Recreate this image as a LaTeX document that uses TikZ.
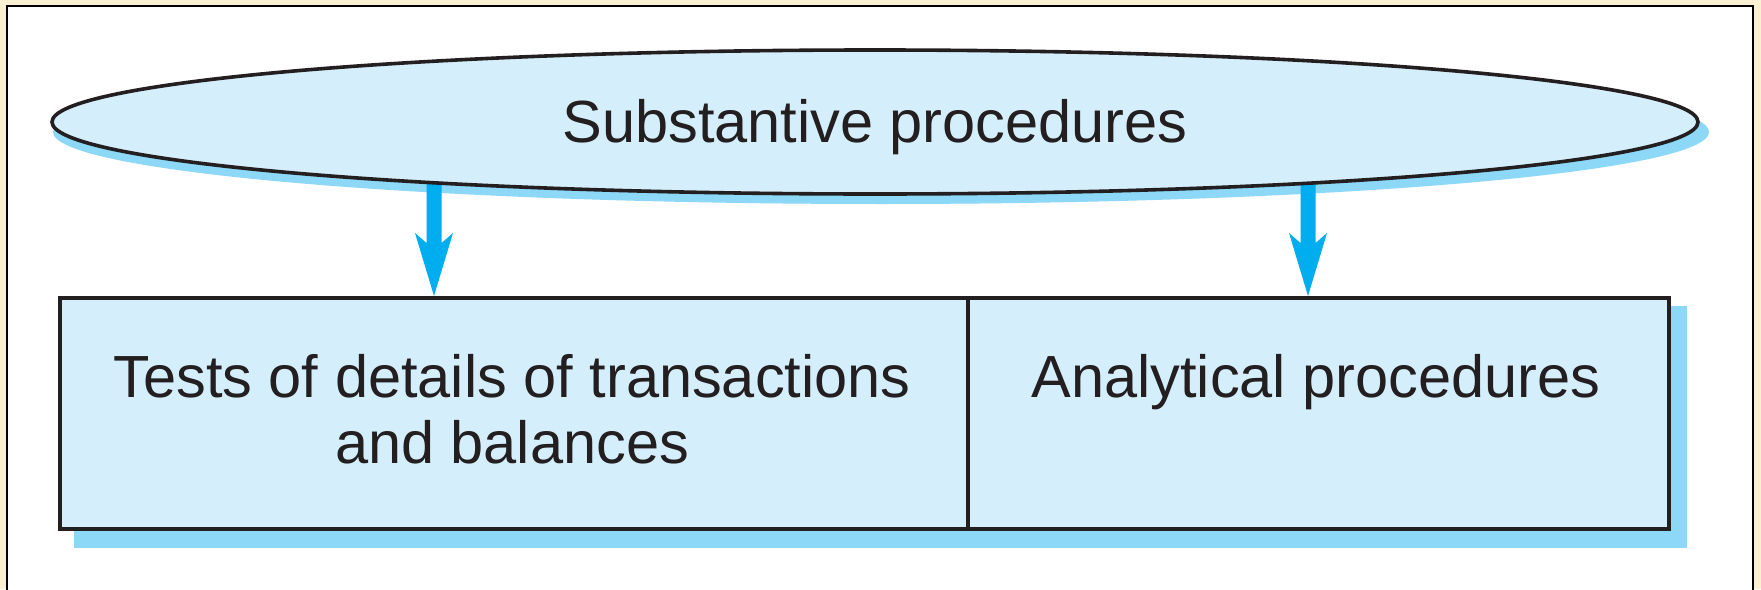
\documentclass[tikz,border=0pt]{standalone}
\usepackage{fontspec}
\setmainfont{Liberation Sans}
\usetikzlibrary{shapes.geometric}
\definecolor{pagebeige}{HTML}{FAF0D2}
\definecolor{boxblue}{HTML}{D5EEFB}
\definecolor{shadowblue}{HTML}{8DD7F7}
\definecolor{arrowblue}{HTML}{00AEEF}
\definecolor{inkdark}{HTML}{231F20}
\newcommand\procarrow[2]{%
  \fill[arrowblue] ([xshift=-3.75pt]#1) -- ([shift={(-7.5,-53)}]#2) -- ([shift={(-19,-63)}]#2) -- (#2)
    -- ([shift={(19,-63)}]#2) -- ([shift={(7.5,-53)}]#2) -- ([xshift=3.75pt]#1) -- cycle;}
\begin{document}
\begin{tikzpicture}[x=0.5pt,y=-0.5pt,
  txt/.style={text=inkdark, font=\fontsize{29.75}{33}\selectfont, inner sep=0pt, align=center},
  cell/.style={draw=inkdark, line width=1.8pt, fill=boxblue, inner sep=0pt, minimum height=115.5pt},
  ovalshape/.style={ellipse, draw=inkdark, line width=1.8pt, fill=boxblue, inner sep=0pt, minimum width=823pt, minimum height=72pt}
]
\useasboundingbox (0,0) rectangle (1761,589);
\fill[pagebeige] (0,0) rectangle (1761,589);
\draw[line width=1.2pt, fill=white] (7,6) rectangle (1753,620);
% shadows
\fill[shadowblue] (881,132) ellipse [x radius=414pt, y radius=36pt];
\fill[shadowblue] (74,306) rectangle (1687,548);
% arrow start coordinates (hidden under ellipse)
\coordinate (s1) at (434,150);
\coordinate (s2) at (1308,150);
% boxes
\node[cell, minimum width=454pt, anchor=north west] (left) at (58,296) {};
\node[cell, minimum width=350.5pt, anchor=north west] (right) at (966,296) {};
\coordinate (t1) at (left.north -| s1);
\coordinate (t2) at (right.north -| s2);
\procarrow{s1}{t1}
\procarrow{s2}{t2}
% ellipse
\node[ovalshape] (ell) at (875,122) {};
\node[txt, anchor=base] (elltext) at (875,142) {Substantive procedures};
\node[txt, anchor=base] (lefttext) at (512,463) {Tests of details of transactions\\and balances};
\node[txt, anchor=base] (righttext) at (1316,397) {Analytical procedures};
\end{tikzpicture}
\end{document}
